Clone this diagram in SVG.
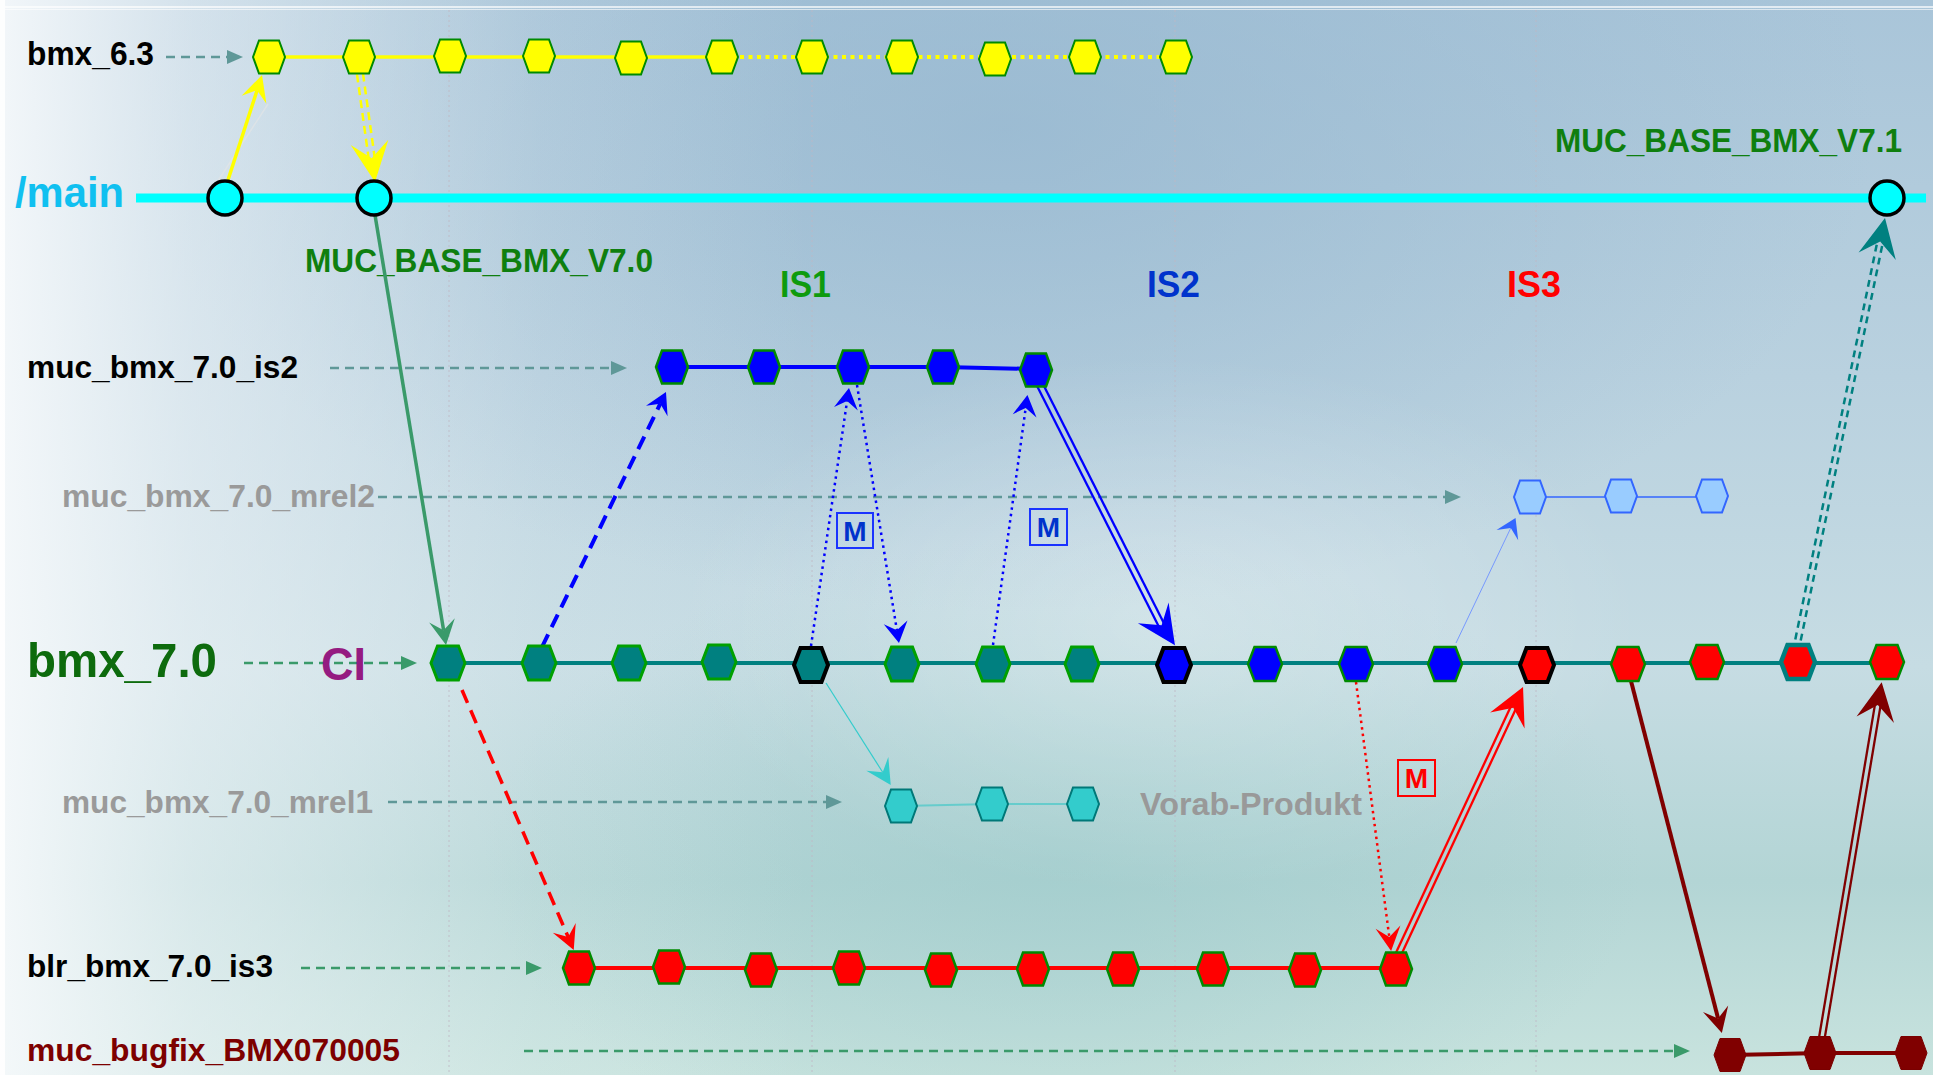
<svg xmlns="http://www.w3.org/2000/svg" xmlns:xlink="http://www.w3.org/1999/xlink" width="1933" height="1075" viewBox="0 0 1933 1075">
<style>
text{font-family:"Liberation Sans",Arial,sans-serif;font-weight:bold}
.lbl{font-size:32px}
.mt{font-size:28px;text-anchor:middle}
.hy{fill:#ffff00;stroke:#008a00;stroke-width:2}
.ht{fill:#008080;stroke:#00a000;stroke-width:3}
.htk{fill:#008080;stroke:#000;stroke-width:4}
.hb{fill:#0000ff;stroke:#008a00;stroke-width:2.5}
.hbk{fill:#0000ff;stroke:#000;stroke-width:4}
.hr{fill:#ff0000;stroke:#008a00;stroke-width:2.5}
.hrk{fill:#ff0000;stroke:#000;stroke-width:4}
.hrt{fill:#ff0000;stroke:#008080;stroke-width:4.5}
.hl{fill:#99ccff;stroke:#3366ff;stroke-width:2}
.hc{fill:#33cccc;stroke:#007878;stroke-width:2}
.hd{fill:#800000;stroke:#7a0000;stroke-width:1}
.la{fill:none;stroke:#5f9898;stroke-width:2.5;stroke-dasharray:9 6}
.lg{fill:none;stroke:#3a9a6a;stroke-width:2.5;stroke-dasharray:9 6}
.guide{stroke:#c0b8c4;stroke-width:1;stroke-dasharray:2 3;opacity:0.8}
.mk{fill:none;stroke:none}
.mbox{fill:none;stroke-width:2}
</style>
<defs>
<linearGradient id="bgV" x1="0" y1="0" x2="0" y2="1">
 <stop offset="0" stop-color="#a9c5d9"/>
 <stop offset="0.35" stop-color="#b9d1df"/>
 <stop offset="0.62" stop-color="#c6dce3"/>
 <stop offset="0.82" stop-color="#b3d5d5"/>
 <stop offset="1" stop-color="#c8e3de"/>
</linearGradient>
<linearGradient id="bgH" x1="0" y1="0" x2="1" y2="0">
 <stop offset="0" stop-color="#f6f9fb" stop-opacity="0.95"/>
 <stop offset="0.1" stop-color="#f0f5f8" stop-opacity="0.6"/>
 <stop offset="0.28" stop-color="#eef4f6" stop-opacity="0.15"/>
 <stop offset="0.42" stop-color="#eef4f6" stop-opacity="0"/>
</linearGradient>
<radialGradient id="bgTop" cx="0.52" cy="0.12" r="0.45">
 <stop offset="0" stop-color="#94b6cf" stop-opacity="0.7"/>
 <stop offset="1" stop-color="#94b6cf" stop-opacity="0"/>
</radialGradient>
<radialGradient id="bgBot" cx="0.55" cy="0.8" r="0.3">
 <stop offset="0" stop-color="#9ccaca" stop-opacity="0.6"/>
 <stop offset="1" stop-color="#9ccaca" stop-opacity="0"/>
</radialGradient>
<radialGradient id="bgLight" cx="0.6" cy="0.58" r="0.25">
 <stop offset="0" stop-color="#ffffff" stop-opacity="0.3"/>
 <stop offset="1" stop-color="#ffffff" stop-opacity="0"/>
</radialGradient>
<path id="hx" d="M-16,0 L-10,-16.5 L10,-16.5 L16,0 L10,16.5 L-10,16.5 Z"/>
<path id="hX" d="M-17,0 L-10.5,-17 L10.5,-17 L17,0 L10.5,17 L-10.5,17 Z"/>
<marker id="mY1" markerUnits="userSpaceOnUse" orient="auto" refX="0" refY="0" markerWidth="60" markerHeight="60" overflow="visible"><path d="M16,0 L-10,-13 L0,0 L-10,13 Z" fill="#ffff00"/></marker>
<marker id="mY2" markerUnits="userSpaceOnUse" orient="auto" refX="0" refY="0" markerWidth="60" markerHeight="60" overflow="visible"><path d="M24,0 L-16,-19 L0,0 L-16,19 Z" fill="#ffff00"/></marker>
<marker id="mG" markerUnits="userSpaceOnUse" orient="auto" refX="0" refY="0" markerWidth="60" markerHeight="60" overflow="visible"><path d="M15,0 L-10,-13 L0,0 L-10,13 Z" fill="#3a9a6a"/></marker>
<marker id="mB" markerUnits="userSpaceOnUse" orient="auto" refX="0" refY="0" markerWidth="60" markerHeight="60" overflow="visible"><path d="M13,0 L-8,-12 L0,0 L-8,12 Z" fill="#0000ff"/></marker>
<marker id="mBd" markerUnits="userSpaceOnUse" orient="auto" refX="0" refY="0" markerWidth="60" markerHeight="60" overflow="visible"><path d="M24,0 L-15,-18.5 L0,0 L-15,18.5 Z" fill="#0000ff"/></marker>
<marker id="mR" markerUnits="userSpaceOnUse" orient="auto" refX="0" refY="0" markerWidth="60" markerHeight="60" overflow="visible"><path d="M14,0 L-10,-12.5 L0,0 L-10,12.5 Z" fill="#ff0000"/></marker>
<marker id="mRd" markerUnits="userSpaceOnUse" orient="auto" refX="0" refY="0" markerWidth="60" markerHeight="60" overflow="visible"><path d="M23,0 L-14,-19 L0,0 L-14,19 Z" fill="#ff0000"/></marker>
<marker id="mDR" markerUnits="userSpaceOnUse" orient="auto" refX="0" refY="0" markerWidth="60" markerHeight="60" overflow="visible"><path d="M15,0 L-10,-13 L0,0 L-10,13 Z" fill="#800000"/></marker>
<marker id="mDRd" markerUnits="userSpaceOnUse" orient="auto" refX="0" refY="0" markerWidth="60" markerHeight="60" overflow="visible"><path d="M23,0 L-15,-19 L0,0 L-15,19 Z" fill="#800000"/></marker>
<marker id="mT" markerUnits="userSpaceOnUse" orient="auto" refX="0" refY="0" markerWidth="60" markerHeight="60" overflow="visible"><path d="M24,0 L-15,-19 L0,0 L-15,19 Z" fill="#008080"/></marker>
<marker id="mLB" markerUnits="userSpaceOnUse" orient="auto" refX="0" refY="0" markerWidth="60" markerHeight="60" overflow="visible"><path d="M11,0 L-8,-12 L0,0 L-8,12 Z" fill="#3366ff"/></marker>
<marker id="mC" markerUnits="userSpaceOnUse" orient="auto" refX="0" refY="0" markerWidth="60" markerHeight="60" overflow="visible"><path d="M15,0 L-10,-13 L0,0 L-10,13 Z" fill="#33cccc"/></marker>
<marker id="tA" markerUnits="userSpaceOnUse" orient="auto" refX="0" refY="0" markerWidth="30" markerHeight="30" overflow="visible"><path d="M16,0 L0,-7 L0,7 Z" fill="#5f9898"/></marker>
<marker id="tG" markerUnits="userSpaceOnUse" orient="auto" refX="0" refY="0" markerWidth="30" markerHeight="30" overflow="visible"><path d="M16,0 L0,-7 L0,7 Z" fill="#3a9a6a"/></marker>
</defs>

<g id="background">
<rect x="0" y="0" width="1933" height="1075" fill="url(#bgV)"/>
<rect x="0" y="0" width="1933" height="1075" fill="url(#bgTop)"/>
<rect x="0" y="0" width="1933" height="1075" fill="url(#bgBot)"/>
<rect x="0" y="0" width="1933" height="1075" fill="url(#bgLight)"/>
<rect x="0" y="0" width="1933" height="1075" fill="url(#bgH)"/>
<rect x="0" y="0" width="5" height="1075" fill="#ffffff" opacity="0.85"/>
<line x1="5" y1="7" x2="1933" y2="7" stroke="#ffffff" stroke-width="1.5" opacity="0.9"/>
<line x1="5" y1="9.5" x2="1933" y2="9.5" stroke="#ffffff" stroke-width="1" opacity="0.6"/>
<line class="guide" x1="449" y1="10" x2="449" y2="1075"/>
<line class="guide" x1="812" y1="10" x2="812" y2="1075"/>
<line class="guide" x1="1175" y1="10" x2="1175" y2="1075"/>
<line class="guide" x1="1536" y1="10" x2="1536" y2="1075"/>
</g>

<g id="labels">
<text x="27" y="65" font-size="33" fill="#000" textLength="127" lengthAdjust="spacingAndGlyphs">bmx_6.3</text>
<text x="15" y="207" font-size="43" fill="#10c0f0" textLength="109" lengthAdjust="spacingAndGlyphs">/main</text>
<text x="305" y="272" font-size="34" fill="#0f7f0f" textLength="348" lengthAdjust="spacingAndGlyphs">MUC_BASE_BMX_V7.0</text>
<text x="1555" y="152" font-size="34" fill="#0f7f0f" textLength="347" lengthAdjust="spacingAndGlyphs">MUC_BASE_BMX_V7.1</text>
<text x="780" y="297" font-size="37" fill="#0e9b0e" textLength="51" lengthAdjust="spacingAndGlyphs">IS1</text>
<text x="1147" y="297" font-size="37" fill="#0033cc" textLength="53" lengthAdjust="spacingAndGlyphs">IS2</text>
<text x="1507" y="297" font-size="37" fill="#ff0000" textLength="54" lengthAdjust="spacingAndGlyphs">IS3</text>
<text class="lbl" x="27" y="378" fill="#000" textLength="271" lengthAdjust="spacingAndGlyphs">muc_bmx_7.0_is2</text>
<text class="lbl" x="62" y="507" fill="#9a9a9a" textLength="313" lengthAdjust="spacingAndGlyphs">muc_bmx_7.0_mrel2</text>
<text x="27" y="677" font-size="49" fill="#0d6b0d" textLength="190" lengthAdjust="spacingAndGlyphs">bmx_7.0</text>
<text class="lbl" x="62" y="813" fill="#9a9a9a" textLength="311" lengthAdjust="spacingAndGlyphs">muc_bmx_7.0_mrel1</text>
<text x="1140" y="815" font-size="32" fill="#999999" textLength="222" lengthAdjust="spacingAndGlyphs">Vorab-Produkt</text>
<text class="lbl" x="27" y="977" fill="#000" textLength="246" lengthAdjust="spacingAndGlyphs">blr_bmx_7.0_is3</text>
<text class="lbl" x="27" y="1061" fill="#7d0000" textLength="373" lengthAdjust="spacingAndGlyphs">muc_bugfix_BMX070005</text>
</g>

<g id="connectors">
<path class="la" d="M166,57 L227,57" marker-end="url(#tA)"/>
<path class="la" d="M330,368 L611,368" marker-end="url(#tA)"/>
<path class="la" d="M378,497 L1445,497" marker-end="url(#tA)"/>
<path class="lg" d="M244,663 L401,663" marker-end="url(#tG)"/>
<path class="la" d="M388,802 L826,802" marker-end="url(#tA)"/>
<path class="lg" d="M301,968 L526,968" marker-end="url(#tG)"/>
<path class="lg" d="M524,1051 L1674,1051" marker-end="url(#tG)"/>
<line x1="136" y1="198" x2="1926" y2="198" stroke="#00ffff" stroke-width="9"/>
<line x1="269" y1="57" x2="723" y2="57" stroke="#ffff00" stroke-width="3.5"/>
<line x1="723" y1="57" x2="1176" y2="57" stroke="#ffff00" stroke-width="4" stroke-dasharray="4 4.5"/>
<polyline points="672,367 764,367 853,367 943,367 1035,369" fill="none" stroke="#0000ff" stroke-width="4"/>
<line x1="1530" y1="497" x2="1712" y2="497" stroke="#3366ff" stroke-width="1.5"/>
<line x1="447" y1="663" x2="1886" y2="663" stroke="#008080" stroke-width="4"/>
<polyline points="901,806 992,804 1082,804" fill="none" stroke="#66cccc" stroke-width="2"/>
<line x1="579" y1="968" x2="1395" y2="968" stroke="#ff0000" stroke-width="4"/>
<polyline points="1729,1055 1820,1053 1911,1053" fill="none" stroke="#800000" stroke-width="4"/>
<line x1="212" y1="190" x2="268" y2="104" stroke="#e6e6e6" stroke-width="1.5" opacity="0.6"/>
<path d="M228,180 L257.1,90.2" stroke="#ffff00" stroke-width="3.5" fill="none" marker-end="url(#mY1)"/>
<g stroke="#ffff00" stroke-width="2.5" stroke-dasharray="8 5" fill="none">
<line x1="363" y1="73.6" x2="374.7" y2="157.8"/>
<line x1="357" y1="74.4" x2="368.7" y2="158.6"/>
</g>
<path class="mk" d="M370,146 L371.7,158.2" marker-end="url(#mY2)"/>
<path d="M375,215 L443.6,630.2" stroke="#3a9a6a" stroke-width="3.5" fill="none" marker-end="url(#mG)"/>
<path d="M542,647 L660.3,403.7" stroke="#0000ff" stroke-width="4" stroke-dasharray="14 8" fill="none" marker-end="url(#mB)"/>
<path d="M811,646 L847.1,400.9" stroke="#0000ff" stroke-width="2.5" stroke-dasharray="2.5 4" fill="none" marker-end="url(#mB)"/>
<path d="M857,385 L896.9,630.2" stroke="#0000ff" stroke-width="2.5" stroke-dasharray="2.5 4" fill="none" marker-end="url(#mB)"/>
<path d="M993,645 L1025.7,407.9" stroke="#0000ff" stroke-width="2.5" stroke-dasharray="2.5 4" fill="none" marker-end="url(#mB)"/>
<g stroke="#0000ff" stroke-width="2.3" fill="none">
<line x1="1042.7" y1="383.6" x2="1164.3" y2="623.9"/>
<line x1="1037.3" y1="386.4" x2="1158.9" y2="626.7"/>
</g>
<path class="mk" d="M1150,608 L1161.6,625.3" marker-end="url(#mBd)"/>
<path d="M462,690 L568.2,937.1" stroke="#ff0000" stroke-width="3.5" stroke-dasharray="14 8" fill="none" marker-end="url(#mR)"/>
<path d="M1356,682 L1389.3,937.1" stroke="#ff0000" stroke-width="2.5" stroke-dasharray="2.5 4" fill="none" marker-end="url(#mR)"/>
<g stroke="#ff0000" stroke-width="2.3" fill="none">
<line x1="1400.5" y1="956.2" x2="1515.8" y2="709"/>
<line x1="1395.5" y1="953.8" x2="1510.8" y2="706.6"/>
</g>
<path class="mk" d="M1509,717 L1513.3,707.8" marker-end="url(#mRd)"/>
<path d="M1631,681 L1718.1,1018.5" stroke="#800000" stroke-width="4" fill="none" marker-end="url(#mDR)"/>
<g stroke="#800000" stroke-width="2.3" fill="none">
<line x1="1824.8" y1="1037.5" x2="1880.6" y2="705.4"/>
<line x1="1819.2" y1="1036.5" x2="1875" y2="704.4"/>
</g>
<path class="mk" d="M1876.1,714.8 L1877.8,704.9" marker-end="url(#mDRd)"/>
<g stroke="#008080" stroke-width="2.5" stroke-dasharray="7 5" fill="none">
<line x1="1800.7" y1="640.6" x2="1882.9" y2="242.1"/>
<line x1="1795.3" y1="639.4" x2="1877.5" y2="240.9"/>
</g>
<path class="mk" d="M1878.2,251.3 L1880.2,241.5" marker-end="url(#mT)"/>
<path d="M1456,643 L1510.8,527.9" stroke="#7799ff" stroke-width="1" fill="none" marker-end="url(#mLB)"/>
<path d="M826,683 L882.7,772.3" stroke="#33cccc" stroke-width="1.2" fill="none" marker-end="url(#mC)"/>
</g>

<g id="merge-labels">
<rect class="mbox" x="837" y="513" width="36" height="35" stroke="#1a33ff"/>
<text class="mt" x="855" y="541" fill="#0033cc">M</text>
<rect class="mbox" x="1030" y="509" width="37" height="36" stroke="#1a33ff"/>
<text class="mt" x="1048.5" y="537" fill="#0033cc">M</text>
<rect class="mbox" x="1398" y="760" width="37" height="36" stroke="#ff0000"/>
<text class="mt" x="1416.5" y="788" fill="#ff0000">M</text>
</g>

<g id="main-nodes">
<g id="main_1"><circle cx="225" cy="198" r="17" fill="#00ffff" stroke="#000" stroke-width="3.5"/></g>
<g id="main_2"><circle cx="374" cy="198" r="17" fill="#00ffff" stroke="#000" stroke-width="3.5"/></g>
<g id="main_3"><circle cx="1887" cy="198" r="17" fill="#00ffff" stroke="#000" stroke-width="3.5"/></g>
</g>

<g id="bmx63-nodes">
<g id="b63_1"><use xlink:href="#hx" class="hy" x="269" y="57"/></g>
<g id="b63_2"><use xlink:href="#hx" class="hy" x="359" y="57"/></g>
<g id="b63_3"><use xlink:href="#hx" class="hy" x="450" y="56"/></g>
<g id="b63_4"><use xlink:href="#hx" class="hy" x="539" y="56"/></g>
<g id="b63_5"><use xlink:href="#hx" class="hy" x="631" y="58"/></g>
<g id="b63_6"><use xlink:href="#hx" class="hy" x="722" y="57"/></g>
<g id="b63_7"><use xlink:href="#hx" class="hy" x="812" y="57"/></g>
<g id="b63_8"><use xlink:href="#hx" class="hy" x="902" y="57"/></g>
<g id="b63_9"><use xlink:href="#hx" class="hy" x="995" y="59"/></g>
<g id="b63_10"><use xlink:href="#hx" class="hy" x="1085" y="57"/></g>
<g id="b63_11"><use xlink:href="#hx" class="hy" x="1176" y="57"/></g>
</g>

<g id="is2-nodes">
<g id="is2_1"><use xlink:href="#hx" class="hb" x="672" y="367"/></g>
<g id="is2_2"><use xlink:href="#hx" class="hb" x="764" y="367"/></g>
<g id="is2_3"><use xlink:href="#hx" class="hb" x="853" y="367"/></g>
<g id="is2_4"><use xlink:href="#hx" class="hb" x="943" y="367"/></g>
<g id="is2_5"><use xlink:href="#hx" class="hb" x="1036" y="370"/></g>
</g>

<g id="mrel2-nodes">
<g id="mrel2_1"><use xlink:href="#hx" class="hl" x="1530" y="497"/></g>
<g id="mrel2_2"><use xlink:href="#hx" class="hl" x="1621" y="496"/></g>
<g id="mrel2_3"><use xlink:href="#hx" class="hl" x="1712" y="496"/></g>
</g>

<g id="bmx70-nodes">
<g id="b70_1"><use xlink:href="#hX" class="ht" x="448" y="663"/></g>
<g id="b70_2"><use xlink:href="#hX" class="ht" x="539" y="663"/></g>
<g id="b70_3"><use xlink:href="#hX" class="ht" x="629" y="663"/></g>
<g id="b70_4"><use xlink:href="#hX" class="ht" x="719" y="662"/></g>
<g id="b70_5"><use xlink:href="#hX" class="htk" x="811" y="665"/></g>
<g id="b70_6"><use xlink:href="#hX" class="ht" x="902" y="664"/></g>
<g id="b70_7"><use xlink:href="#hX" class="ht" x="993" y="664"/></g>
<g id="b70_8"><use xlink:href="#hX" class="ht" x="1082" y="664"/></g>
<g id="b70_9"><use xlink:href="#hX" class="hbk" x="1174" y="665"/></g>
<g id="b70_10"><use xlink:href="#hX" class="hb" x="1265" y="664"/></g>
<g id="b70_11"><use xlink:href="#hX" class="hb" x="1356" y="664"/></g>
<g id="b70_12"><use xlink:href="#hX" class="hb" x="1445" y="664"/></g>
<g id="b70_13"><use xlink:href="#hX" class="hrk" x="1537" y="665"/></g>
<g id="b70_14"><use xlink:href="#hX" class="hr" x="1628" y="664"/></g>
<g id="b70_15"><use xlink:href="#hX" class="hr" x="1707" y="662"/></g>
<g id="b70_16"><use xlink:href="#hX" class="hrt" x="1798" y="662"/></g>
<g id="b70_17"><use xlink:href="#hX" class="hr" x="1887" y="662"/></g>
</g>

<g id="mrel1-nodes">
<g id="mrel1_1"><use xlink:href="#hx" class="hc" x="901" y="806"/></g>
<g id="mrel1_2"><use xlink:href="#hx" class="hc" x="992" y="804"/></g>
<g id="mrel1_3"><use xlink:href="#hx" class="hc" x="1083" y="804"/></g>
</g>

<g id="is3-nodes">
<g id="is3_1"><use xlink:href="#hx" class="hr" x="579" y="968"/></g>
<g id="is3_2"><use xlink:href="#hx" class="hr" x="669" y="967"/></g>
<g id="is3_3"><use xlink:href="#hx" class="hr" x="761" y="970"/></g>
<g id="is3_4"><use xlink:href="#hx" class="hr" x="849" y="968"/></g>
<g id="is3_5"><use xlink:href="#hx" class="hr" x="941" y="970"/></g>
<g id="is3_6"><use xlink:href="#hx" class="hr" x="1033" y="969"/></g>
<g id="is3_7"><use xlink:href="#hx" class="hr" x="1123" y="969"/></g>
<g id="is3_8"><use xlink:href="#hx" class="hr" x="1213" y="969"/></g>
<g id="is3_9"><use xlink:href="#hx" class="hr" x="1305" y="970"/></g>
<g id="is3_10"><use xlink:href="#hx" class="hr" x="1396" y="969"/></g>
</g>

<g id="bugfix-nodes">
<g id="bf_1"><use xlink:href="#hx" class="hd" x="1730" y="1055"/></g>
<g id="bf_2"><use xlink:href="#hx" class="hd" x="1820" y="1053"/></g>
<g id="bf_3"><use xlink:href="#hx" class="hd" x="1911" y="1053"/></g>
</g>

<g id="ci-label">
<text x="321" y="680" font-size="47" fill="#951b81" textLength="45" lengthAdjust="spacingAndGlyphs">CI</text>
</g>
</svg>
